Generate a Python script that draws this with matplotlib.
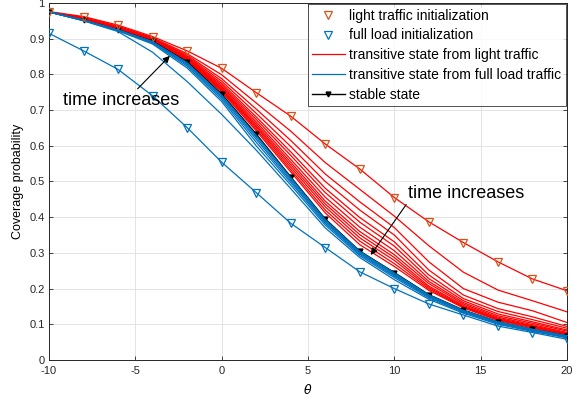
import matplotlib
matplotlib.use("Agg")
import matplotlib.pyplot as plt
import numpy as np

plt.rcParams['font.family'] = ['Liberation Sans', 'DejaVu Sans']
plt.rcParams['axes.unicode_minus'] = False

theta = [-10, -8, -6, -4, -2, 0, 2, 4, 6, 8, 10, 12, 14, 16, 18, 20]

light_init = [0.976, 0.962, 0.938, 0.906, 0.866, 0.817, 0.749, 0.683, 0.605, 0.535, 0.455, 0.387, 0.329, 0.275, 0.227, 0.194]
full_init = [0.915, 0.866, 0.814, 0.740, 0.651, 0.554, 0.469, 0.383, 0.315, 0.247, 0.200, 0.157, 0.126, 0.095, 0.077, 0.058]
stable = [0.975, 0.952, 0.925, 0.893, 0.835, 0.745, 0.633, 0.513, 0.395, 0.305, 0.245, 0.183, 0.140, 0.107, 0.086, 0.068]

red_1 = [0.976, 0.962, 0.938, 0.906, 0.866, 0.817, 0.749, 0.683, 0.605, 0.535, 0.455, 0.387, 0.329, 0.275, 0.227, 0.194]
red_2 = [0.975, 0.960, 0.935, 0.903, 0.858, 0.799, 0.720, 0.641, 0.553, 0.478, 0.403, 0.320, 0.246, 0.196, 0.166, 0.135]
red_3 = [0.975, 0.958, 0.933, 0.901, 0.854, 0.788, 0.703, 0.615, 0.521, 0.443, 0.371, 0.275, 0.200, 0.162, 0.138, 0.105]
red_4 = [0.975, 0.957, 0.932, 0.900, 0.851, 0.781, 0.691, 0.598, 0.500, 0.420, 0.350, 0.252, 0.182, 0.144, 0.121, 0.094]
red_5 = [0.975, 0.956, 0.930, 0.898, 0.848, 0.775, 0.681, 0.583, 0.481, 0.399, 0.331, 0.238, 0.172, 0.136, 0.113, 0.089]
red_6 = [0.975, 0.956, 0.930, 0.898, 0.846, 0.770, 0.674, 0.573, 0.469, 0.386, 0.319, 0.228, 0.166, 0.129, 0.107, 0.084]
red_7 = [0.975, 0.955, 0.929, 0.897, 0.844, 0.766, 0.667, 0.562, 0.456, 0.372, 0.306, 0.220, 0.161, 0.124, 0.103, 0.081]
red_8 = [0.975, 0.955, 0.928, 0.896, 0.843, 0.762, 0.661, 0.554, 0.445, 0.360, 0.295, 0.214, 0.157, 0.120, 0.099, 0.077]
red_9 = [0.975, 0.954, 0.928, 0.896, 0.841, 0.759, 0.656, 0.547, 0.437, 0.351, 0.287, 0.207, 0.153, 0.117, 0.096, 0.075]
red_10 = [0.975, 0.954, 0.927, 0.895, 0.840, 0.757, 0.652, 0.540, 0.429, 0.342, 0.279, 0.203, 0.150, 0.115, 0.094, 0.073]
red_11 = [0.975, 0.953, 0.927, 0.895, 0.839, 0.754, 0.647, 0.533, 0.420, 0.333, 0.270, 0.199, 0.148, 0.113, 0.092, 0.071]
red_12 = [0.975, 0.953, 0.926, 0.894, 0.837, 0.751, 0.642, 0.527, 0.412, 0.323, 0.262, 0.195, 0.146, 0.111, 0.090, 0.070]

blue_1 = [0.915, 0.866, 0.814, 0.740, 0.651, 0.554, 0.469, 0.383, 0.315, 0.247, 0.200, 0.157, 0.126, 0.095, 0.077, 0.058]
blue_2 = [0.975, 0.950, 0.920, 0.862, 0.780, 0.688, 0.588, 0.480, 0.370, 0.287, 0.225, 0.170, 0.131, 0.100, 0.080, 0.062]
blue_3 = [0.975, 0.951, 0.922, 0.885, 0.818, 0.724, 0.600, 0.490, 0.378, 0.292, 0.231, 0.174, 0.134, 0.102, 0.082, 0.064]
blue_4 = [0.975, 0.951, 0.923, 0.888, 0.823, 0.730, 0.610, 0.497, 0.383, 0.296, 0.235, 0.177, 0.136, 0.104, 0.083, 0.065]
blue_5 = [0.975, 0.951, 0.923, 0.890, 0.827, 0.735, 0.618, 0.502, 0.387, 0.299, 0.238, 0.179, 0.137, 0.105, 0.084, 0.066]
blue_6 = [0.975, 0.952, 0.924, 0.891, 0.830, 0.739, 0.624, 0.507, 0.390, 0.302, 0.241, 0.181, 0.138, 0.106, 0.085, 0.067]
blue_7 = [0.975, 0.952, 0.925, 0.892, 0.833, 0.742, 0.629, 0.511, 0.393, 0.304, 0.244, 0.182, 0.139, 0.107, 0.086, 0.068]

red_lines = [red_1, red_2, red_3, red_4, red_5, red_6, red_7, red_8, red_9, red_10, red_11, red_12]
blue_lines = [blue_1, blue_2, blue_3, blue_4, blue_5, blue_6, blue_7]

legend_labels = ['light traffic initialization', 'full load initialization',
                 'transitive state from light traffic', 'transitive state from full load traffic',
                 'stable state']

ORANGE = '#D95319'
BLUE = '#0072BD'

fig = plt.figure(figsize=(5.73, 4.05), dpi=100)
ax = fig.add_axes([49/573, 1-360/405, (567-49)/573, (360-3)/405])

for i, r in enumerate(red_lines):
    ax.plot(theta, r, color='#FF0000', lw=0.9, zorder=3,
            label=legend_labels[2] if i == 0 else None)
ax.plot(theta, stable, color='black', lw=1.0, marker='v', markersize=3.5,
        zorder=3.5, label=legend_labels[4])
for i, b in enumerate(blue_lines):
    ax.plot(theta, b, color=BLUE, lw=0.9, zorder=4,
            label=legend_labels[3] if i == 0 else None)
ax.plot(theta, light_init, linestyle='none', marker='v', markersize=5.5,
        markerfacecolor='none', markeredgecolor=ORANGE, markeredgewidth=0.9,
        zorder=5, label=legend_labels[0])
ax.plot(theta, full_init, linestyle='none', marker='v', markersize=5.5,
        markerfacecolor='none', markeredgecolor=BLUE, markeredgewidth=0.9,
        zorder=5, label=legend_labels[1])

ax.set_xlim(-10, 20)
ax.set_ylim(0, 1)
ax.set_xticks([-10, -5, 0, 5, 10, 15, 20])
ax.set_yticks(np.round(np.arange(0, 1.01, 0.1), 1))
ax.set_yticklabels(['0', '0.1', '0.2', '0.3', '0.4', '0.5', '0.6', '0.7', '0.8', '0.9', '1'])
ax.grid(True, color='#DFDFDF', lw=0.6)
ax.set_axisbelow(True)
ax.tick_params(direction='in', length=3, width=0.6, labelsize=8, colors='#262626',
               top=True, right=True)
ax.tick_params(axis='x', pad=4)
ax.tick_params(axis='y', pad=3)
for s in ax.spines.values():
    s.set_linewidth(0.7)
    s.set_color('#262626')

ax.set_xlabel(r'$\theta$', fontsize=9, labelpad=5)
ax.set_ylabel('Coverage probability', fontsize=9, labelpad=4)

ax.annotate('time increases', xy=(-3.0, 0.852), xytext=(-9.2, 0.728),
            fontsize=13, va='center', ha='left', zorder=10,
            arrowprops=dict(arrowstyle='-|>', color='black', lw=0.8,
                            shrinkA=0, shrinkB=0, mutation_scale=10,
                            relpos=(0.62, 1.0)))
ax.annotate('time increases', xy=(8.63, 0.294), xytext=(10.8, 0.467),
            fontsize=13, va='center', ha='left', zorder=10,
            arrowprops=dict(arrowstyle='-|>', color='black', lw=0.8,
                            shrinkA=0, shrinkB=0, mutation_scale=10,
                            relpos=(0.0, 0.0)))

handles, labels = ax.get_legend_handles_labels()
order = [labels.index(l) for l in legend_labels]
leg = ax.legend([handles[i] for i in order], [labels[i] for i in order],
                loc='upper right', fontsize=10, borderaxespad=0.1,
                frameon=True, fancybox=False, edgecolor='#262626',
                handlelength=2.4, handletextpad=0.3, labelspacing=0.42,
                borderpad=0.3)
leg.get_frame().set_linewidth(0.7)
leg.set_zorder(20)

fig.savefig('out.png', dpi=100)
